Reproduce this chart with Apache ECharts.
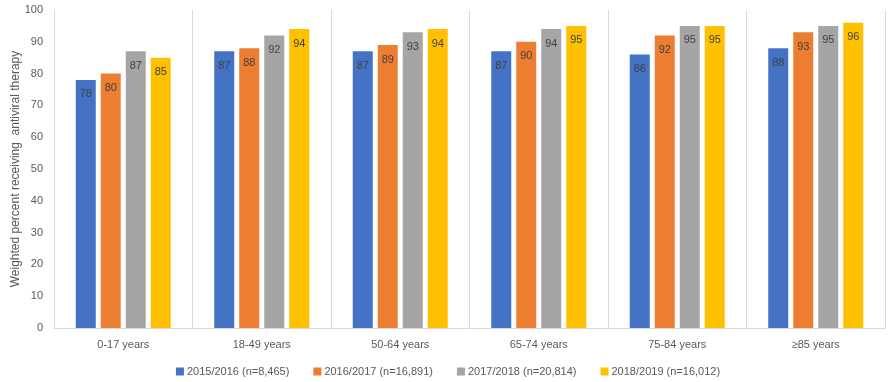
<!DOCTYPE html>
<html>
<head>
<meta charset="utf-8">
<script src="https://cdn.jsdelivr.net/npm/echarts@6/dist/echarts.min.js"></script>
<style>
html,body{margin:0;padding:0;background:#fff;}
#chart{width:896px;height:382px;}
</style>
</head>
<body>
<div id="chart"></div>
<script>
const categories = ['0-17 years', '18-49 years', '50-64 years', '65-74 years', '75-84 years', '≥85 years'];
const seriesNames = ['2015/2016 (n=8,465)', '2016/2017 (n=16,891)', '2017/2018 (n=20,814)', '2018/2019 (n=16,012)'];
const s2015 = [78, 87, 87, 87, 86, 88];
const s2016 = [80, 88, 89, 90, 92, 93];
const s2017 = [87, 92, 93, 94, 95, 95];
const s2018 = [85, 94, 94, 95, 95, 96];
const yTicks = {min: 0, max: 100, interval: 10};
const yAxisTitle = 'Weighted percent receiving  antiviral therapy';

const colors = ['#4472C4', '#ED7D31', '#A5A5A5', '#FFC000'];
const FONT = '"Liberation Sans", Arial, sans-serif';
const allData = [s2015, s2016, s2017, s2018];

const chart = echarts.init(document.getElementById('chart'), null, {renderer: 'canvas'});
chart.setOption({
  animation: false,
  color: colors,
  textStyle: {fontFamily: FONT},
  grid: {left: 54, right: 11, top: 10, bottom: 54, containLabel: false, outerBoundsMode: 'none'},
  legend: {
    top: 361,
    left: 'center',
    itemWidth: 8,
    itemHeight: 8,
    itemGap: 24,
    icon: 'rect',
    textStyle: {color: '#595959', fontSize: 11, fontFamily: FONT, padding: [0, 0, 0, -2]},
    data: seriesNames
  },
  xAxis: {
    type: 'category',
    data: categories,
    axisLine: {show: true, lineStyle: {color: '#D9D9D9', width: 1}},
    axisTick: {show: false},
    axisLabel: {color: '#595959', fontSize: 11, margin: 11, fontFamily: FONT},
    splitLine: {show: true, lineStyle: {color: '#D9D9D9', width: 1}}
  },
  yAxis: {
    type: 'value',
    min: yTicks.min,
    max: yTicks.max,
    interval: yTicks.interval,
    name: yAxisTitle,
    nameLocation: 'middle',
    nameGap: 32,
    nameMoveOverlap: false,
    nameTextStyle: {color: '#595959', fontSize: 12, fontFamily: FONT},
    axisLine: {show: true, lineStyle: {color: '#D9D9D9', width: 1}},
    axisTick: {show: false},
    axisLabel: {color: '#595959', fontSize: 11, margin: 11, fontFamily: FONT},
    splitLine: {show: false}
  },
  series: seriesNames.map((name, i) => ({
    name: name,
    type: 'bar',
    data: allData[i],
    barWidth: 20,
    barGap: '25%',
    label: {
      show: true,
      position: 'insideTop',
      distance: 9,
      color: '#404040',
      fontSize: 11,
      fontFamily: FONT
    }
  }))
});
</script>
</body>
</html>
